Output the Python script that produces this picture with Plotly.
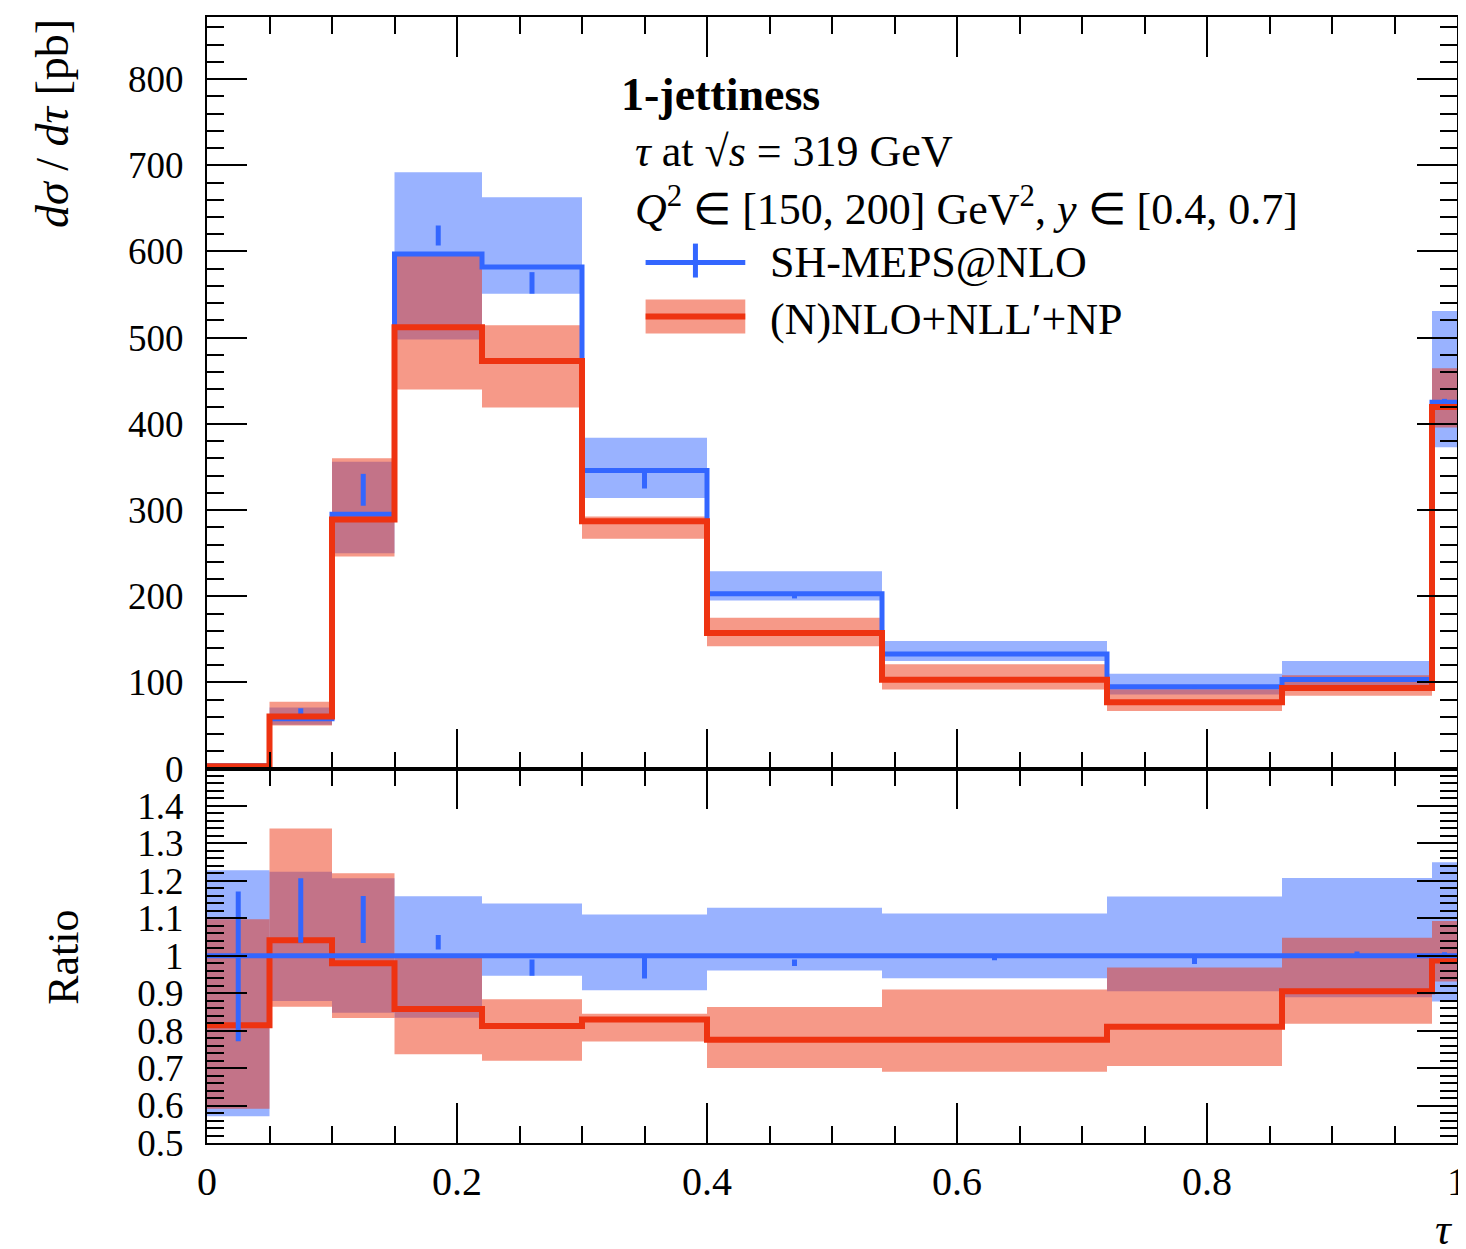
import plotly.graph_objects as go

# ---------------- data ----------------
edges = [0, 0.05, 0.1, 0.15, 0.22, 0.3, 0.4, 0.54, 0.72, 0.86, 0.98, 1.0]

# SH-MEPS@NLO (blue)
sh_val     = [3.5, 58, 295, 597, 582, 346, 203, 133, 95, 103.5, 425]
sh_band_hi = [4.3, 71, 356, 692, 663, 384, 229, 148, 110, 125, 531]
sh_band_lo = [2.0, 51, 250, 498, 551, 314, 195, 125, 86, 92, 373]
sh_stat_hi = [4.1, 70, 342, 630, 576, 344, 201, 133, 95, 104.7, 429]
sh_stat_lo = [2.7, 60, 305, 607, 551, 325, 197.5, 131.4, 92.9, 103.5, 425]

# (N)NLO+NLL'+NP (red)
res_val     = [2.85, 60.4, 289, 512, 473, 287, 157.5, 103.2, 77, 93.7, 419.5]
res_band_hi = [3.84, 77.7, 360, 597, 514.5, 292.4, 175.2, 121, 92, 108.5, 464.5]
res_band_lo = [2.07, 50.1, 246, 440, 419, 266.8, 142.1, 91.8, 67, 84.7, 395.7]

main_yticks = [0, 100, 200, 300, 400, 500, 600, 700, 800]
ratio_yticks = [0.5, 0.6, 0.7, 0.8, 0.9, 1.0, 1.1, 1.2, 1.3, 1.4]
ratio_ylabels = ["0.5", "0.6", "0.7", "0.8", "0.9", "1", "1.1", "1.2", "1.3", "1.4"]
x_ticks = [0, 0.2, 0.4, 0.6, 0.8, 1.0]
x_labels = ["0", "0.2", "0.4", "0.6", "0.8", "1"]

# ---------------- styles ----------------
BLUE = "#3366FF"
RED = "#EE3311"
BLUE_BAND = "rgba(51,102,255,0.5)"
RED_BAND = "rgba(238,51,17,0.5)"
FONT = "Liberation Serif"

centers = [(a + b) / 2 for a, b in zip(edges[:-1], edges[1:])]
widths = [b - a for a, b in zip(edges[:-1], edges[1:])]


def band(lo, hi, color, xa, ya):
    return go.Bar(x=centers, y=[h - l for h, l in zip(hi, lo)], base=lo, width=widths,
                  marker=dict(color=color, line=dict(width=0)), xaxis=xa, yaxis=ya,
                  showlegend=False, hoverinfo="skip")


def step(vals, color, xa, ya, w=5):
    return go.Scatter(x=edges, y=list(vals) + [vals[-1]], mode="lines",
                      line=dict(color=color, width=w, shape="hv"), xaxis=xa, yaxis=ya,
                      showlegend=False, hoverinfo="skip")


def errbars(lo, hi, color, xa, ya):
    xs, ys = [], []
    for c, l, h in zip(centers, lo, hi):
        xs += [c, c, None]
        ys += [l, h, None]
    return go.Scatter(x=xs, y=ys, mode="lines", line=dict(color=color, width=5),
                      xaxis=xa, yaxis=ya, showlegend=False, hoverinfo="skip")


fig = go.Figure()

# main panel
fig.add_trace(band(sh_band_lo, sh_band_hi, BLUE_BAND, "x", "y"))
fig.add_trace(step(sh_val, BLUE, "x", "y", 5))
fig.add_trace(errbars(sh_stat_lo, sh_stat_hi, BLUE, "x", "y"))
fig.add_trace(band(res_band_lo, res_band_hi, RED_BAND, "x", "y"))
fig.add_trace(step(res_val, RED, "x", "y", 6))


# ratio panel (relative to SH-MEPS@NLO)
def rat(a):
    return [v / b for v, b in zip(a, sh_val)]


fig.add_trace(band(rat(sh_band_lo), rat(sh_band_hi), BLUE_BAND, "x2", "y2"))
fig.add_trace(band(rat(res_band_lo), rat(res_band_hi), RED_BAND, "x2", "y2"))
fig.add_trace(step(rat(res_val), RED, "x2", "y2", 6))
fig.add_trace(step(rat(sh_val), BLUE, "x2", "y2", 5))
fig.add_trace(errbars(rat(sh_stat_lo), rat(sh_stat_hi), BLUE, "x2", "y2"))

# ---------------- layout ----------------
# page body adds an 8px offset; target pixel positions are given in page coordinates
OFF = 8
W, H = 1466, 1249 - OFF
PL, PR, PT, PB = 207, 1461, 15, 1143        # plot area in page pixels
ML, MT = PL - OFF, PT - OFF
PW, PH = PR - PL, PB - PT
MR = W - ML - PW
MB = H - MT - PH
split = 375 / PH


def px(x):
    return (x - PL) / PW


def py(y):
    return (PB - y) / PH


tick_common = dict(showgrid=False, zeroline=False, showline=True, linecolor="black",
                   linewidth=2, mirror="ticks", ticks="inside", ticklen=40, tickwidth=2,
                   tickcolor="black")
minor_common = dict(ticks="inside", ticklen=17, tickwidth=2, tickcolor="black")
tick_font = dict(family=FONT, size=37, color="black")

fig.update_layout(
    width=W, height=H, margin=dict(l=ML, r=MR, t=MT, b=MB),
    paper_bgcolor="white", plot_bgcolor="white", barmode="overlay", showlegend=False,
    xaxis=dict(range=[0, 1], anchor="y", tickvals=x_ticks, showticklabels=False,
               minor=dict(tick0=0, dtick=0.05, **minor_common), **tick_common),
    yaxis=dict(range=[0, 872], domain=[split, 1], anchor="x", tickvals=main_yticks,
               ticklabelstandoff=14, tickfont=tick_font,
               minor=dict(tick0=0, dtick=20, **minor_common), **tick_common),
    xaxis2=dict(range=[0, 1], anchor="y2", matches="x", tickvals=x_ticks,
                ticktext=x_labels, ticklabelstandoff=2, tickfont=dict(tick_font, size=40),
                ticklabeloverflow="allow",
                minor=dict(tick0=0, dtick=0.05, **minor_common), **tick_common),
    yaxis2=dict(range=[0.5, 1.4995], domain=[0, split], anchor="x2", tickvals=ratio_yticks,
                ticktext=ratio_ylabels, ticklabelstandoff=14, tickfont=tick_font,
                minor=dict(tick0=0.5, dtick=0.02, **minor_common), **tick_common),
)

ann_font = dict(family=FONT, size=44, color="black")
anns = [
    dict(text="<i>dσ</i> / <i>dτ</i> [pb]", x=px(52), y=py(15), xanchor="center", yanchor="top",
         textangle=-90, font=dict(ann_font, size=46)),
    dict(text="Ratio", x=px(63), y=py(957), xanchor="center", yanchor="middle", textangle=-90),
    dict(text="<i>τ</i>", x=px(1448), y=py(1230), xanchor="center", yanchor="middle"),
    dict(text="<b>1-jettiness</b>", x=px(620), y=py(93), xanchor="left", yanchor="middle",
         font=dict(ann_font, size=46)),
    dict(text="<i>τ</i> at √<i>s</i> = 319 GeV", x=px(634), y=py(150), xanchor="left",
         yanchor="middle"),
    dict(text="<i>Q</i><sup>2</sup> ∈ [150, 200] GeV<sup>2</sup>, <i>y</i> ∈ [0.4, 0.7]",
         x=px(634), y=py(205), xanchor="left", yanchor="middle"),
    dict(text="SH-MEPS@NLO", x=px(770), y=py(261), xanchor="left", yanchor="middle"),
    dict(text="(N)NLO+NLL′+NP", x=px(770), y=py(318), xanchor="left", yanchor="middle"),
]
for a in anns:
    a.setdefault("font", ann_font)
    fig.add_annotation(xref="paper", yref="paper", showarrow=False, **a)

# legend glyphs
fig.add_shape(type="line", xref="paper", yref="paper", x0=px(647), x1=px(747), y0=py(261),
              y1=py(261), line=dict(color=BLUE, width=5))
fig.add_shape(type="line", xref="paper", yref="paper", x0=px(697), x1=px(697), y0=py(242),
              y1=py(276), line=dict(color=BLUE, width=5))
fig.add_shape(type="rect", xref="paper", yref="paper", x0=px(647), x1=px(747), y0=py(298),
              y1=py(332), fillcolor=RED_BAND, line=dict(width=0))
fig.add_shape(type="line", xref="paper", yref="paper", x0=px(647), x1=px(747), y0=py(315),
              y1=py(315), line=dict(color=RED, width=6))

fig.write_html("out.html")
